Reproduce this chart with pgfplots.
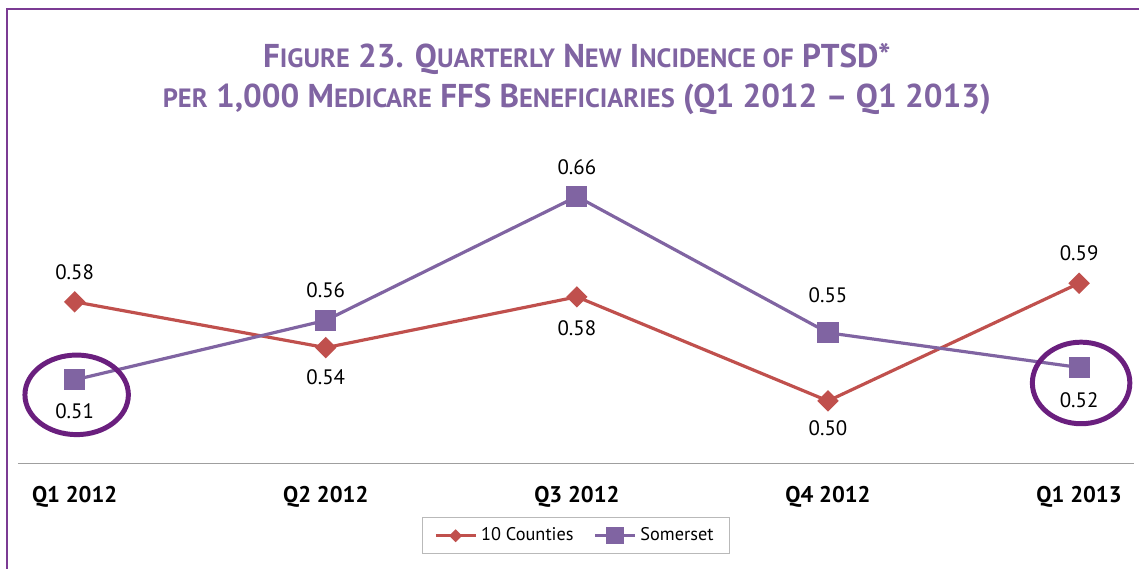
\documentclass[border=0pt]{standalone}
\usepackage{fontspec}
\setmainfont{PT Sans}
\usepackage{pgfplots}
\usepackage{pgfplotstable}
\pgfplotsset{compat=1.18}

\definecolor{ctyred}{HTML}{C0504D}
\definecolor{somp}{HTML}{8064A2}
\definecolor{titlep}{HTML}{8064A2}
\definecolor{ringp}{HTML}{6A1F7E}
\definecolor{framep}{HTML}{7B3B93}
\newcommand\sm[1]{{\fontsize{13.3pt}{14pt}\selectfont #1}}

% x, value, label text, label offset (px, + above / - below)
\pgfplotstableread{
x y lab off
0 0.576 0.58 30
1 0.539 0.54 -30
2 0.580 0.58 -32
3 0.496 0.50 -27
4 0.591 0.59 30
}\counties
\pgfplotstableread{
x y lab off
0 0.513 0.51 -32
1 0.561 0.56 30
2 0.661 0.66 29
3 0.551 0.55 38
4 0.523 0.52 -33
}\somerset

\pgfplotsset{
  labelled/.style={
    nodes near coords, point meta=explicit symbolic,
    visualization depends on={\thisrow{off} \as \labshift},
    every node near coord/.append style={anchor=center, yshift=\labshift*0.5pt,
      font=\fontsize{10.5pt}{12pt}\selectfont, text=black},
  },
}

\begin{document}
\begin{tikzpicture}
\begin{scope}[x=0.5pt,y=0.5pt]
  \path[use as bounding box] (0,0) rectangle (1140,572);
\end{scope}

\begin{axis}[
  at={(9pt,53pt)}, anchor=south west, scale only axis,
  width=561pt, height=158.5pt,
  xmin=-0.226, xmax=4.218, ymin=0.4455, ymax=0.70,
  hide y axis, axis x line*=bottom,
  x axis line style={draw=gray!75, line width=0.8pt, -},
  xtick={0,1,2,3,4},
  xticklabels={Q1 2012, Q2 2012, Q3 2012, Q4 2012, Q1 2013},
  major tick length=0pt,
  xticklabel style={font=\fontsize{11.4pt}{13pt}\selectfont\bfseries, anchor=base, yshift=-19.5pt},
  clip=false,
  legend columns=2,
  legend style={at={(0.5,0)}, anchor=north, yshift=-27pt,
    draw=gray!55, line width=0.6pt, inner xsep=6pt, inner ysep=3pt,
    font=\fontsize{9.2pt}{10pt}\selectfont,
    /tikz/every even column/.append style={column sep=8pt}},
  legend image code/.code={\draw[mark repeat=2,mark phase=2,#1]
    plot coordinates {(0pt,0pt) (10pt,0pt) (20pt,0pt)};},
]
\addlegendimage{ctyred, line width=1.6pt, mark=square*,
  mark options={rotate=45, solid, fill=ctyred, mark size=1.5pt}}
\addlegendentry{10 Counties}
\addlegendimage{somp, line width=1.6pt, mark=square*,
  mark options={solid, fill=somp, mark size=3.5pt}}
\addlegendentry{Somerset}

\addplot[forget plot, labelled, ctyred, line width=1.6pt, mark=square*, mark size=3pt,
  mark options={rotate=45, fill=ctyred}]
  table[x=x, y=y, meta=lab] {\counties};
\addplot[forget plot, labelled, somp, line width=1.6pt, mark=square*, mark size=4.5pt,
  mark options={fill=somp}]
  table[x=x, y=y, meta=lab] {\somerset};

\draw[ringp, line width=2.5pt] (axis cs:0.008,0.5009) ellipse [x radius=26pt, y radius=20pt];
\draw[ringp, line width=2.5pt] (axis cs:4.008,0.5105) ellipse [x radius=24.5pt, y radius=20.5pt];
\end{axis}

\begin{scope}[x=0.5pt,y=0.5pt]
  \draw[framep, line width=1.2pt] (7,0) -- (7,563) -- (1145,563);
  \node[anchor=base, text=titlep, font=\fontsize{16.6pt}{18pt}\selectfont\bfseries, inner sep=0pt]
    at (580,504) {F\sm{IGURE} 23. Q\sm{UARTERLY} N\sm{EW} I\sm{NCIDENCE OF} PTSD*};
  \node[anchor=base, text=titlep, font=\fontsize{16.6pt}{18pt}\selectfont\bfseries, inner sep=0pt]
    at (580,464) {\sm{PER} 1,000 M\sm{EDICARE} FFS B\sm{ENEFICIARIES} (Q1 2012 -- Q1 2013)};
\end{scope}
\end{tikzpicture}
\end{document}
